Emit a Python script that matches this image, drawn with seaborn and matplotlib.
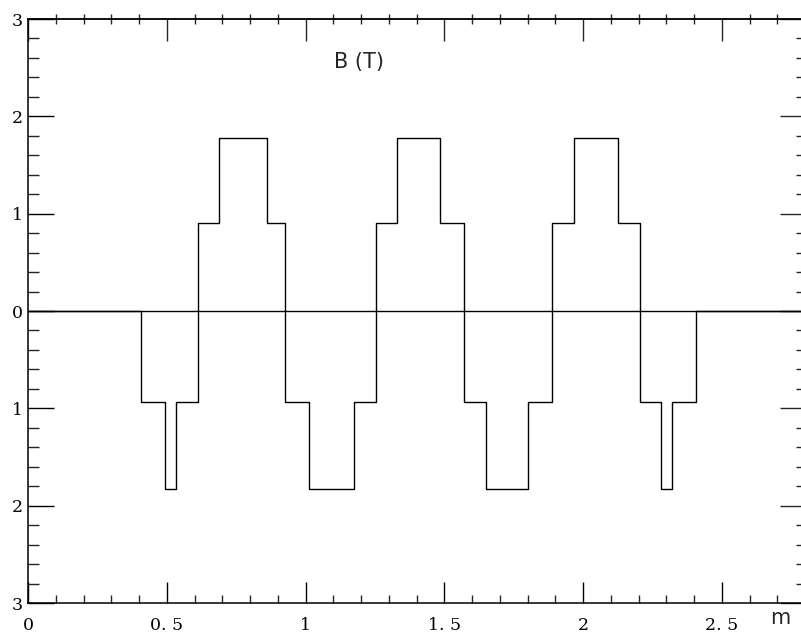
import matplotlib
matplotlib.use("Agg")
import matplotlib.pyplot as plt
from matplotlib.ticker import MultipleLocator, FixedLocator, FixedFormatter
import seaborn as sns
import pandas as pd

# Field map along the beam line: segment boundaries (m) and field in each segment (T)
edges = [0.0, 0.408, 0.495, 0.532, 0.611, 0.687, 0.861, 0.927, 1.014, 1.176,
         1.255, 1.331, 1.485, 1.570, 1.649, 1.802, 1.888, 1.966, 2.127, 2.207,
         2.282, 2.321, 2.408, 2.789]
field = [0.0, -0.93, -1.83, -0.93, 0.90, 1.78, 0.90, -0.93, -1.83, -0.93,
         0.90, 1.78, 0.90, -0.93, -1.83, -0.93, 0.90, 1.78, 0.90, -0.93,
         -1.83, -0.93, 0.0]

x_ticks = [0, 0.5, 1, 1.5, 2, 2.5]
x_labels = ["0", "0. 5", "1", "1. 5", "2", "2. 5"]
y_ticks = [-3, -2, -1, 0, 1, 2, 3]
y_labels = ["3", "2", "1", "0", "1", "2", "3"]

sns.set_style("ticks")
plt.rcParams["font.family"] = ["DejaVu Sans"]

df = pd.DataFrame({"s": edges, "B": field + [field[-1]]})

fig = plt.figure(figsize=(8.01, 6.37), dpi=100)
ax = fig.add_axes([28 / 801, 34 / 637, 774 / 801, 584 / 637])

ax.axhline(0, color="black", lw=1.0, zorder=1)
sns.lineplot(data=df, x="s", y="B", ax=ax, drawstyle="steps-post",
             estimator=None, color="black", lw=1.0, zorder=2)

ax.set_xlim(0, 2.789)
ax.set_ylim(-3, 3)
ax.set_xlabel("")
ax.set_ylabel("")

for side in ["left", "bottom", "top"]:
    ax.spines[side].set_linewidth(1.1)
    ax.spines[side].set_color("black")
ax.spines["right"].set_visible(False)

tick_font = {"family": "DejaVu Serif", "size": 12.5}

ax.xaxis.set_major_locator(FixedLocator(x_ticks))
ax.xaxis.set_major_formatter(FixedFormatter(x_labels))
ax.xaxis.set_minor_locator(MultipleLocator(0.1))
ax.yaxis.set_major_locator(FixedLocator(y_ticks))
ax.yaxis.set_major_formatter(FixedFormatter(y_labels))
ax.yaxis.set_minor_locator(MultipleLocator(0.2))

ax.tick_params(axis="x", which="major", direction="in", length=15, width=1.0,
               pad=10, top=False, colors="black")
ax.tick_params(axis="x", which="minor", direction="in", length=6, width=1.0,
               top=False)
ax.tick_params(axis="y", which="major", direction="in", length=19, width=1.0,
               pad=4, right=False, colors="black")
ax.tick_params(axis="y", which="minor", direction="in", length=8, width=1.0,
               right=False)
for lab in ax.get_xticklabels() + ax.get_yticklabels():
    lab.set_fontfamily(tick_font["family"])
    lab.set_fontsize(tick_font["size"])

# Top axis: ticks only
top = ax.secondary_xaxis("top")
top.xaxis.set_major_locator(FixedLocator(x_ticks))
top.xaxis.set_minor_locator(MultipleLocator(0.1))
top.tick_params(which="major", direction="in", length=16, width=1.0, labeltop=False)
top.tick_params(which="minor", direction="inout", length=7, width=1.0)
top.spines["top"].set_linewidth(1.1)

# Right axis: ticks only
right = ax.secondary_yaxis("right")
right.yaxis.set_major_locator(FixedLocator(y_ticks))
right.yaxis.set_minor_locator(MultipleLocator(0.2))
right.tick_params(which="major", direction="in", length=16, width=1.0, labelright=False)
right.tick_params(which="minor", direction="in", length=4, width=1.0)
right.spines["right"].set_visible(False)

ax.text(1.193, 2.56, "B (T)", ha="center", va="center", fontsize=15,
        family="DejaVu Sans")
fig.text(780 / 801, 1 - 624 / 637, "m", ha="center", va="baseline",
         fontsize=15, family="DejaVu Sans")

fig.savefig("out.png", dpi=100)
